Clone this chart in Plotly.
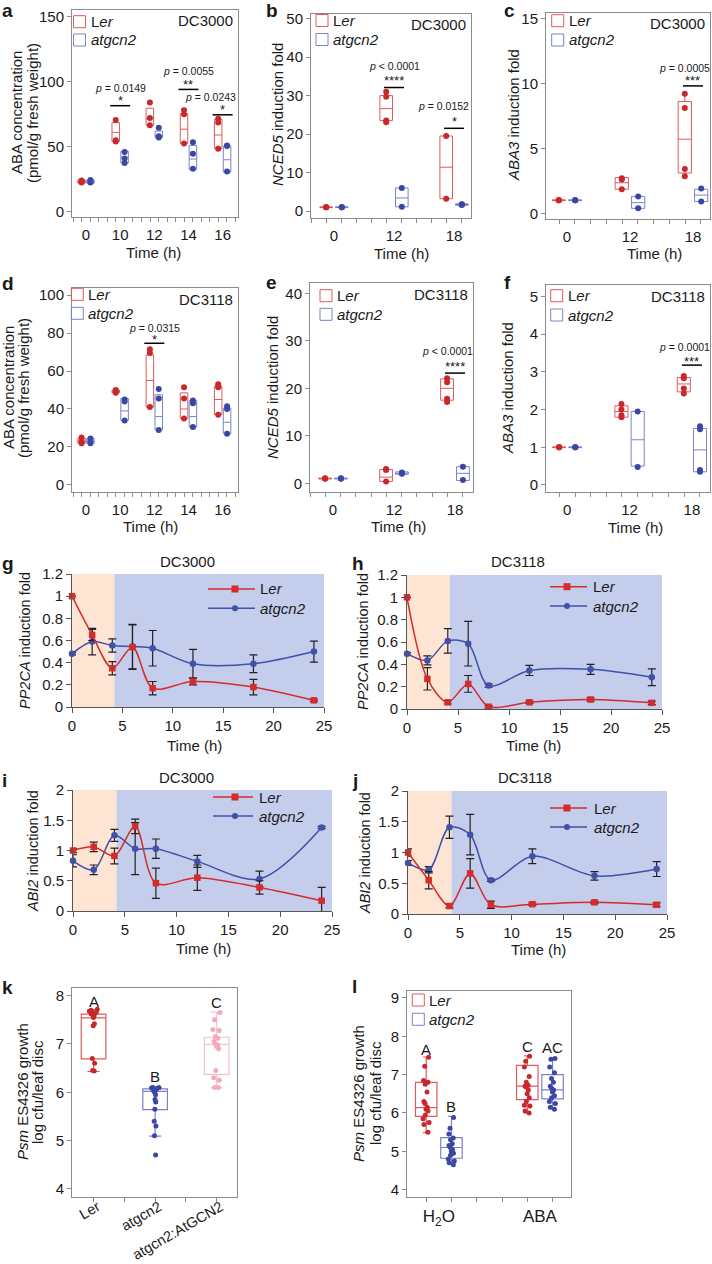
import plotly.graph_objects as go

W, H = 712, 1264
FONT = "Liberation Sans, Arial, Helvetica, sans-serif"
TXT = "#1a1a1a"
RED_DOT = "#c8282b"
BLUE_DOT = "#3b48a3"
RED_BOX = "#de5b5b"
BLUE_BOX = "#7b83c8"
PINK_DOT = "#f5a9ba"
PINK_BOX = "#f6bfcb"
RED_LINE = "#d42b2b"
BLUE_LINE = "#4150a8"
FRAME = "#8c8c8c"
SHADE_PINK = "#fde4d3"
SHADE_BLUE = "#c4cdec"

# ---------------- data ----------------
# a: ABA concentration, DC3000
a_times = ["0", "10", "12", "14", "16"]
a_ler_pts = [[24, 22.5, 23], [70.5, 55, 54], [84, 72, 66.5], [78, 75, 52.5], [71.5, 68.5, 48.5]]
a_ler_q1 = [22, 54, 66.5, 52.5, 48.5]
a_ler_med = [23, 61, 71.5, 63.5, 59]
a_ler_q3 = [24.5, 68.5, 79.5, 75.5, 71]
a_atg_pts = [[24.5, 22.5, 23], [46, 41, 37.5], [64.5, 58, 57], [53.5, 44.5, 33], [51, 50.5, 31]]
a_atg_q1 = [22, 37.5, 57, 32.5, 30.5]
a_atg_med = [23, 42, 58.5, 40.5, 40]
a_atg_q3 = [24.5, 46.5, 62, 51, 50.5]
a_sig_pos = [2, 4, 5]
a_sig_p = ["<i>p</i> = 0.0149", "<i>p</i> = 0.0055", "<i>p</i> = 0.0243"]
a_sig_star = ["*", "**", "*"]
a_sig_y = [81.5, 94, 74.5]

# b: NCED5, DC3000
b_times = ["0", "12", "18"]
b_ler_pts = [[1, 1, 1], [31, 29.7, 23.5, 23.1], [19.5, 3.2]]
b_ler_q1 = [0.9, 23.5, 3.2]
b_ler_med = [1, 26.6, 11.4]
b_ler_q3 = [1.1, 30, 19.5]
b_atg_pts = [[1, 1, 1], [6, 1.1], [1.8, 1.6, 1.7]]
b_atg_q1 = [0.9, 1.1, 1.5]
b_atg_med = [1, 3.4, 1.7]
b_atg_q3 = [1.1, 6, 1.9]
b_sig_pos = [2, 3]
b_sig_p = ["<i>p</i> < 0.0001", "<i>p</i> = 0.0152"]
b_sig_star = ["****", "*"]
b_sig_y = [32.1, 21.5]

# c: ABA3, DC3000
c_times = ["0", "12", "18"]
c_ler_pts = [[1, 1, 1], [2.7, 2.6, 1.85], [9.2, 8.1, 3.4, 2.85]]
c_ler_q1 = [0.97, 1.85, 3.1]
c_ler_med = [1, 2.35, 5.7]
c_ler_q3 = [1.03, 2.75, 8.6]
c_ler_lo = [0.97, 1.85, 2.85]
c_ler_hi = [1.03, 2.75, 9.2]
c_atg_pts = [[1, 1, 1], [1.3, 0.38], [1.9, 0.9]]
c_atg_q1 = [0.97, 0.38, 0.9]
c_atg_med = [1, 0.82, 1.4]
c_atg_q3 = [1.03, 1.3, 1.85]
c_sig_pos = [3]
c_sig_p = ["<i>p</i> = 0.0005"]
c_sig_star = ["***"]
c_sig_y = [9.8]

# d: ABA concentration, DC3118
d_times = ["0", "10", "12", "14", "16"]
d_ler_pts = [[25, 22, 23], [49.5, 48.5, 50], [71.5, 69.5, 41], [51.5, 45.5, 35], [53, 51.5, 37]]
d_ler_q1 = [22, 48.5, 41, 35, 37]
d_ler_med = [23, 49, 55, 40, 45]
d_ler_q3 = [24.5, 50, 68.5, 48.5, 52]
d_atg_pts = [[24.5, 22, 23], [45, 44, 34], [50.5, 45.5, 29], [44.5, 43, 30.5], [41.5, 40, 27]]
d_atg_q1 = [22, 34, 29, 30.5, 27]
d_atg_med = [23, 39, 36, 36, 33]
d_atg_q3 = [24.5, 45.5, 47.5, 44.5, 40.5]
d_sig_pos = [3]
d_sig_p = ["<i>p</i> = 0.0315"]
d_sig_star = ["*"]
d_sig_y = [74.6]

# e: NCED5, DC3118
e_times = ["0", "12", "18"]
e_ler_pts = [[1, 1, 1], [3, 2.8, 0.4], [22.1, 21.3, 17.8, 17.1]]
e_ler_q1 = [0.9, 0.4, 17.5]
e_ler_med = [1, 1.3, 20]
e_ler_q3 = [1.1, 2.9, 22]
e_atg_pts = [[1, 1, 1], [2.3, 2.1, 2.0], [3.5, 0.7]]
e_atg_q1 = [0.9, 1.9, 0.6]
e_atg_med = [1, 2.1, 2.1]
e_atg_q3 = [1.1, 2.4, 3.5]
e_sig_pos = [3]
e_sig_p = ["<i>p</i> < 0.0001"]
e_sig_star = ["****"]
e_sig_y = [23.2]

# f: ABA3, DC3118
f_times = ["0", "12", "18"]
f_ler_pts = [[1, 1, 1], [2.15, 2.0, 1.85, 1.8], [2.89, 2.83, 2.56, 2.43]]
f_ler_q1 = [0.99, 1.8, 2.47]
f_ler_med = [1, 1.95, 2.68]
f_ler_q3 = [1.01, 2.1, 2.85]
f_atg_pts = [[1, 1, 1], [1.95, 0.48], [1.56, 1.48, 0.4, 0.35]]
f_atg_q1 = [0.99, 0.5, 0.35]
f_atg_med = [1, 1.2, 0.93]
f_atg_q3 = [1.01, 1.95, 1.5]
f_sig_pos = [3]
f_sig_p = ["<i>p</i> = 0.0001"]
f_sig_star = ["***"]
f_sig_y = [3.18]

# g-j: time courses
tc_time = [0, 2, 4, 6, 8, 12, 18, 24]
g_ler = [1.0, 0.65, 0.35, 0.54, 0.17, 0.23, 0.18, 0.06]
g_ler_err = [0.0, 0.05, 0.06, 0.20, 0.06, 0.03, 0.07, 0.01]
g_atg = [0.48, 0.59, 0.555, 0.545, 0.53, 0.39, 0.39, 0.50]
g_atg_err = [0.01, 0.12, 0.06, 0.20, 0.16, 0.13, 0.08, 0.095]
h_ler = [1.0, 0.27, 0.06, 0.225, 0.02, 0.06, 0.085, 0.055]
h_ler_err = [0.0, 0.10, 0.015, 0.075, 0.01, 0.01, 0.015, 0.015]
h_atg = [0.495, 0.435, 0.61, 0.585, 0.21, 0.345, 0.355, 0.285]
h_atg_err = [0.01, 0.04, 0.11, 0.20, 0.015, 0.045, 0.045, 0.075]
i_ler = [1.0, 1.06, 0.91, 1.40, 0.46, 0.55, 0.39, 0.17]
i_ler_err = [0.03, 0.08, 0.13, 0.12, 0.25, 0.21, 0.11, 0.22]
i_atg = [0.83, 0.68, 1.25, 1.03, 1.03, 0.82, 0.53, 1.38]
i_atg_err = [0.10, 0.08, 0.10, 0.43, 0.16, 0.10, 0.13, 0.02]
j_ler = [1.0, 0.55, 0.13, 0.66, 0.15, 0.16, 0.19, 0.15]
j_ler_err = [0.06, 0.14, 0.03, 0.24, 0.06, 0.02, 0.02, 0.03]
j_atg = [0.83, 0.72, 1.41, 1.29, 0.55, 0.94, 0.62, 0.73]
j_atg_err = [0.04, 0.05, 0.18, 0.33, 0.02, 0.12, 0.07, 0.12]
pretreat_end = 4.2

# k: Psm growth
k_cats = ["Ler", "atgcn2", "atgcn2:AtGCN2"]
k_pts = [
    [7.72, 7.70, 7.68, 7.66, 7.65, 7.63, 7.62, 7.60, 7.58, 7.55, 7.42, 7.38, 6.70, 6.60, 6.45, 6.44],
    [6.10, 6.10, 6.09, 6.08, 6.07, 6.05, 6.03, 6.00, 5.95, 5.85, 5.80, 5.65, 5.40, 5.30, 5.10, 4.70],
    [7.65, 7.50, 7.30, 7.28, 7.15, 7.12, 7.05, 7.00, 6.98, 6.95, 6.90, 6.45, 6.30, 6.25, 6.10, 6.10],
]
k_q1 = [6.69, 5.64, 6.37]
k_med = [7.54, 6.02, 6.99]
k_q3 = [7.62, 6.07, 7.14]
k_lo = [6.43, 5.09, 6.09]
k_hi = [7.71, 6.10, 7.66]
k_letters = ["A", "B", "C"]
k_letter_y = [7.88, 6.33, 7.86]

# l: Psm growth with H2O / ABA
l_cats = ["H<sub>2</sub>O", "ABA"]
l_ler_pts = [
    [7.45, 7.22, 6.85, 6.80, 6.75, 6.55, 6.30, 6.25, 6.15, 6.10, 6.05, 5.95, 5.85, 5.75, 5.70, 5.50],
    [7.48, 7.35, 7.20, 6.95, 6.80, 6.72, 6.70, 6.68, 6.60, 6.50, 6.40, 6.30, 6.20, 6.18, 6.05, 6.00],
]
l_atg_pts = [
    [5.88, 5.60, 5.45, 5.35, 5.30, 5.20, 5.15, 5.10, 5.05, 5.00, 4.95, 4.90, 4.80, 4.75, 4.70, 4.65],
    [7.42, 7.40, 7.20, 7.05, 6.90, 6.80, 6.70, 6.65, 6.60, 6.55, 6.45, 6.40, 6.30, 6.25, 6.15, 6.10],
]
l_ler_q1 = [5.91, 6.35]
l_ler_med = [6.14, 6.70]
l_ler_q3 = [6.80, 7.24]
l_ler_lo = [5.49, 6.00]
l_ler_hi = [7.46, 7.49]
l_atg_q1 = [4.82, 6.37]
l_atg_med = [5.10, 6.60]
l_atg_q3 = [5.36, 7.00]
l_atg_lo = [4.66, 6.11]
l_atg_hi = [5.91, 7.43]
l_letters_ler = ["A", "C"]
l_letters_ler_y = [7.65, 7.73]
l_letters_atg = ["B", "AC"]
l_letters_atg_y = [6.16, 7.71]

# ---------------- helpers ----------------
fig = go.Figure()


def PX(px):
    return px / W


def PY(py):
    return 1 - py / H


def xr_(i):
    return "x" if i == 1 else f"x{i}"


def yr_(i):
    return "y" if i == 1 else f"y{i}"


def xa_(i):
    return "xaxis" if i == 1 else f"xaxis{i}"


def ya_(i):
    return "yaxis" if i == 1 else f"yaxis{i}"


def ann(px, py, text, size=15, xanchor="center", yanchor="middle", angle=0, bold=False):
    if bold:
        text = f"<b>{text}</b>"
    fig.add_annotation(x=PX(px), y=PY(py), xref="paper", yref="paper", text=text,
                       showarrow=False, xanchor=xanchor, yanchor=yanchor, textangle=angle,
                       font=dict(size=size, family=FONT, color=TXT))


def set_axes(i, geom, xr, yr, xkw, ykw):
    l, r, t, b = geom
    base = dict(showgrid=False, zeroline=False, automargin=False,
                tickfont=dict(size=15, family=FONT, color=TXT))
    xd = dict(base, domain=[PX(l), PX(r)], anchor=yr_(i), range=xr)
    xd.update(xkw)
    yd = dict(base, domain=[PY(b), PY(t)], anchor=xr_(i), range=yr)
    yd.update(ykw)
    fig.layout[xa_(i)] = xd
    fig.layout[ya_(i)] = yd


framed = dict(showline=True, mirror=True, linecolor=FRAME, linewidth=1,
              ticks="outside", ticklen=4, tickcolor=FRAME)


def box_legend(xc, y1, y2):
    for yc, col, lab in [(y1, RED_BOX, "L<i>er</i>"), (y2, BLUE_BOX, "<i>atgcn2</i>")]:
        fig.add_shape(type="rect", xref="paper", yref="paper",
                      x0=PX(xc - 6), x1=PX(xc + 6), y0=PY(yc + 6), y1=PY(yc - 6),
                      line=dict(color=col, width=1), fillcolor="rgba(0,0,0,0)")
        ann(xc + 9, yc, lab, 15, xanchor="left")


def line_legend(x0, x1, xm, xt, y1, y2):
    fig.add_shape(type="line", xref="paper", yref="paper", x0=PX(x0), x1=PX(x1),
                  y0=PY(y1), y1=PY(y1), line=dict(color=RED_LINE, width=1.5))
    fig.add_shape(type="rect", xref="paper", yref="paper", x0=PX(xm - 3.5), x1=PX(xm + 3.5),
                  y0=PY(y1 + 3.5), y1=PY(y1 - 3.5), line=dict(width=0), fillcolor=RED_LINE)
    ann(xt, y1, "L<i>er</i>", 15, xanchor="left")
    fig.add_shape(type="line", xref="paper", yref="paper", x0=PX(x0), x1=PX(x1),
                  y0=PY(y2), y1=PY(y2), line=dict(color=BLUE_LINE, width=1.5))
    fig.add_shape(type="circle", xref="paper", yref="paper", x0=PX(xm - 3), x1=PX(xm + 3),
                  y0=PY(y2 + 3), y1=PY(y2 - 3), line=dict(width=0), fillcolor=BLUE_LINE)
    ann(xt, y2, "<i>atgcn2</i>", 15, xanchor="left")


def box_panel(i, geom, xr, yr, yticks, cats, ler, atg, sig, dc, leg, width, off):
    set_axes(i, geom, xr, yr,
             dict(framed, tickvals=list(range(1, len(cats) + 1)), ticktext=cats,
                  tickcolor="rgba(0,0,0,0)",
                  minor=dict(ticks="outside", ticklen=4, tickcolor=FRAME, dtick=0.25, tick0=0.875,
                             showgrid=False)),
             dict(framed, tickvals=yticks))
    for grp, sign, lc, dc_col in [(ler, -1, RED_BOX, RED_DOT), (atg, 1, BLUE_BOX, BLUE_DOT)]:
        pts, q1, med, q3, lo, hi = grp
        xs = [k + 1 + sign * off for k in range(len(q1))]
        fig.add_trace(go.Box(x=xs, q1=q1, median=med, q3=q3,
                             lowerfence=lo if lo else q1, upperfence=hi if hi else q3,
                             width=width, orientation="v", boxpoints=False, whiskerwidth=0,
                             line=dict(color=lc, width=1), fillcolor="rgba(0,0,0,0)",
                             xaxis=xr_(i), yaxis=yr_(i), showlegend=False))
        dx, dy = [], []
        for k, p in enumerate(pts):
            dx += [xs[k]] * len(p)
            dy += p
        fig.add_trace(go.Scatter(x=dx, y=dy, mode="markers",
                                 marker=dict(color=dc_col, size=6),
                                 xaxis=xr_(i), yaxis=yr_(i), showlegend=False))
    pos, ptxt, stars, ylev, pdx, star_up, p_up = sig
    for k in range(len(pos)):
        fig.add_shape(type="line", xref=xr_(i), yref=yr_(i), xsizemode="pixel", xanchor=pos[k],
                      x0=-10, x1=10, y0=ylev[k], y1=ylev[k], line=dict(color="black", width=1.5))
        fig.add_annotation(x=pos[k], y=ylev[k], xref=xr_(i), yref=yr_(i), text=stars[k],
                           showarrow=False, yshift=star_up, font=dict(size=13, family=FONT, color=TXT))
        fig.add_annotation(x=pos[k], y=ylev[k], xref=xr_(i), yref=yr_(i), text=ptxt[k],
                           showarrow=False, yshift=p_up, xshift=pdx[k],
                           font=dict(size=10.5, family=FONT, color=TXT))
    l, r, t, b = geom
    ann(r - 3, t + 11, dc, 15, xanchor="right")
    box_legend(*leg)


# ---------------- panels a-f ----------------
box_panel(1, (72, 238, 10, 217), [0.59, 5.45], [-4, 155], [0, 50, 100, 150], a_times,
          (a_ler_pts, a_ler_q1, a_ler_med, a_ler_q3, None, None),
          (a_atg_pts, a_atg_q1, a_atg_med, a_atg_q3, None, None),
          (a_sig_pos, a_sig_p, a_sig_star, a_sig_y, [0, 0, -12], 5, 18), "DC3000", (79.5, 21.7, 40), 0.22, 0.13)
box_panel(2, (311, 471, 14, 218), [0.617, 3.283], [-1.8, 51.2], [0, 10, 20, 30, 40, 50], b_times,
          (b_ler_pts, b_ler_q1, b_ler_med, b_ler_q3, None, None),
          (b_atg_pts, b_atg_q1, b_atg_med, b_atg_q3, None, None),
          (b_sig_pos, b_sig_p, b_sig_star, b_sig_y, [0, -11], 7, 22), "DC3000", (322, 20.5, 39.5), 0.21, 0.13)
box_panel(3, (546, 710, 13, 219), [0.667, 3.27], [-0.44, 15.41], [0, 5, 10, 15], c_times,
          (c_ler_pts, c_ler_q1, c_ler_med, c_ler_q3, c_ler_lo, c_ler_hi),
          (c_atg_pts, c_atg_q1, c_atg_med, c_atg_q3, None, None),
          (c_sig_pos, c_sig_p, c_sig_star, c_sig_y, [-8], 5, 18), "DC3000", (557.7, 20.7, 40), 0.21, 0.13)
box_panel(4, (72, 238, 288, 492), [0.59, 5.45], [-3.7, 103.7], [0, 20, 40, 60, 80, 100], d_times,
          (d_ler_pts, d_ler_q1, d_ler_med, d_ler_q3, None, None),
          (d_atg_pts, d_atg_q1, d_atg_med, d_atg_q3, None, None),
          (d_sig_pos, d_sig_p, d_sig_star, d_sig_y, [0], 4, 15), "DC3118", (77.3, 294.3, 313.3), 0.22, 0.13)
box_panel(5, (310, 473, 283, 492), [0.623, 3.295], [-1.83, 42.17], [0, 10, 20, 30, 40], e_times,
          (e_ler_pts, e_ler_q1, e_ler_med, e_ler_q3, None, None),
          (e_atg_pts, e_atg_q1, e_atg_med, e_atg_q3, None, None),
          (e_sig_pos, e_sig_p, e_sig_star, e_sig_y, [-8], 7, 22), "DC3118", (326, 295.7, 314.3), 0.21, 0.13)
box_panel(6, (546, 710, 285, 492), [0.66, 3.29], [-0.186, 5.305], [0, 1, 2, 3, 4, 5], f_times,
          (f_ler_pts, f_ler_q1, f_ler_med, f_ler_q3, None, None),
          (f_atg_pts, f_atg_q1, f_atg_med, f_atg_q3, None, None),
          (f_sig_pos, f_sig_p, f_sig_star, f_sig_y, [-7], 4, 18), "DC3118", (556.7, 295.7, 315), 0.21, 0.13)

# ---------------- panels g-j ----------------
lineax = dict(showline=True, mirror=False, linecolor="#555555", linewidth=1,
              ticks="outside", ticklen=5, tickcolor="#555555")


def tc_panel(i, geom, ymax, ydtick, ler, ler_err, atg, atg_err, title, tpos, leg):
    set_axes(i, geom, [0, 25], [0, ymax],
             dict(lineax, tickvals=[0, 5, 10, 15, 20, 25], tickfont=dict(size=15, family=FONT, color=TXT)),
             dict(lineax, dtick=ydtick, tick0=0, tickfont=dict(size=15, family=FONT, color=TXT)))
    fig.add_shape(type="rect", xref=xr_(i), yref=yr_(i), x0=0, x1=pretreat_end, y0=0, y1=ymax,
                  fillcolor=SHADE_PINK, line=dict(width=0), layer="below")
    fig.add_shape(type="rect", xref=xr_(i), yref=yr_(i), x0=pretreat_end, x1=25, y0=0, y1=ymax,
                  fillcolor=SHADE_BLUE, line=dict(width=0), layer="below")
    for vals, errs, col, sym, sz in [(atg, atg_err, BLUE_LINE, "circle", 6.5),
                                     (ler, ler_err, RED_LINE, "square", 6.5)]:
        fig.add_trace(go.Scatter(x=tc_time, y=vals, mode="lines+markers",
                                 line=dict(color=col, width=1.5, shape="spline", smoothing=0.9),
                                 marker=dict(color=col, size=sz, symbol=sym),
                                 error_y=dict(type="data", array=errs, color="#222222",
                                              thickness=1.2, width=4),
                                 xaxis=xr_(i), yaxis=yr_(i), showlegend=False, cliponaxis=False))
    ann(tpos[0], tpos[1], title, 15)
    line_legend(*leg)


tc_panel(7, (72, 324, 574, 707), 1.2, 0.2, g_ler, g_ler_err, g_atg, g_atg_err, "DC3000", (188, 561.7),
         (208, 255, 235, 258, 589, 608.3))
tc_panel(8, (407, 662, 575, 709), 1.2, 0.2, h_ler, h_ler_err, h_atg, h_atg_err, "DC3118", (518, 561.7),
         (550, 587, 567, 591, 586.7, 606))
tc_panel(9, (73, 332, 790, 911), 2, 0.5, i_ler, i_ler_err, i_atg, i_atg_err, "DC3000", (186.7, 778),
         (213, 253, 235, 257, 797, 816))
tc_panel(10, (408, 667, 791, 914), 2, 0.5, j_ler, j_ler_err, j_atg, j_atg_err, "DC3118", (525, 778),
         (550, 587, 567, 592, 808, 827))

# ---------------- panel k ----------------
set_axes(11, (72, 237, 988, 1197), [0.65, 3.33], [3.83, 8.16],
         dict(framed, tickvals=[1, 2, 3], ticktext=k_cats, tickangle=-30, ticklabelshift=4,
              ticklabelstandoff=-9, tickfont=dict(size=14.5, family=FONT, color=TXT),
              minor=dict(ticks="outside", ticklen=4, tickcolor=FRAME, dtick=0.5, tick0=0.5, showgrid=False)),
         dict(framed, tickvals=[4, 5, 6, 7, 8]))
k_cols = [(RED_BOX, RED_DOT), (BLUE_BOX, BLUE_DOT), (PINK_BOX, PINK_DOT)]
for n in range(3):
    lc, dcol = k_cols[n]
    fig.add_trace(go.Box(x=[n + 1], q1=[k_q1[n]], median=[k_med[n]], q3=[k_q3[n]],
                         lowerfence=[k_lo[n]], upperfence=[k_hi[n]], width=0.4, whiskerwidth=0.5,
                         boxpoints=False, line=dict(color=lc, width=1.2), fillcolor="rgba(0,0,0,0)",
                         xaxis="x11", yaxis="y11", showlegend=False))
    fig.add_trace(go.Box(x=[n + 1] * len(k_pts[n]), y=k_pts[n], width=0.4, boxpoints="all",
                         jitter=0.35, pointpos=0, marker=dict(color=dcol, size=5),
                         line=dict(color="rgba(0,0,0,0)", width=0), fillcolor="rgba(0,0,0,0)",
                         xaxis="x11", yaxis="y11", showlegend=False, hoverinfo="skip"))
    fig.add_annotation(x=n + 1, y=k_letter_y[n], xref="x11", yref="y11", text=k_letters[n],
                       showarrow=False, font=dict(size=15, family=FONT, color=TXT))

# ---------------- panel l ----------------
l_pos_ler = [1, 5]
l_pos_atg = [2, 6]
set_axes(12, (407, 571, 991, 1197), [0.24, 6.73], [3.81, 9.18],
         dict(framed, tickvals=[1.5, 5.5], ticktext=l_cats, tickcolor="rgba(0,0,0,0)",
              tickfont=dict(size=17, family=FONT, color=TXT),
              minor=dict(ticks="outside", ticklen=4, tickcolor=FRAME, dtick=1, tick0=0, showgrid=False)),
         dict(framed, tickvals=[4, 5, 6, 7, 8, 9]))
for pos, pts, q1, med, q3, lo, hi, lc, dcol, lets, lety in [
        (l_pos_ler, l_ler_pts, l_ler_q1, l_ler_med, l_ler_q3, l_ler_lo, l_ler_hi, RED_BOX, RED_DOT,
         l_letters_ler, l_letters_ler_y),
        (l_pos_atg, l_atg_pts, l_atg_q1, l_atg_med, l_atg_q3, l_atg_lo, l_atg_hi, BLUE_BOX, BLUE_DOT,
         l_letters_atg, l_letters_atg_y)]:
    fig.add_trace(go.Box(x=pos, q1=q1, median=med, q3=q3, lowerfence=lo, upperfence=hi,
                         width=0.85, whiskerwidth=0.3, boxpoints=False,
                         line=dict(color=lc, width=1.2), fillcolor="rgba(0,0,0,0)",
                         xaxis="x12", yaxis="y12", showlegend=False))
    for n in range(2):
        fig.add_trace(go.Box(x=[pos[n]] * len(pts[n]), y=pts[n], width=0.85, boxpoints="all",
                             jitter=0.35, pointpos=0, marker=dict(color=dcol, size=5),
                             line=dict(color="rgba(0,0,0,0)", width=0), fillcolor="rgba(0,0,0,0)",
                             xaxis="x12", yaxis="y12", showlegend=False, hoverinfo="skip"))
        fig.add_annotation(x=pos[n], y=lety[n], xref="x12", yref="y12", text=lets[n],
                           showarrow=False, font=dict(size=15, family=FONT, color=TXT))
box_legend(418.3, 1000, 1019.3)

# ---------------- axis titles & panel letters ----------------
ann(16, 113, "ABA concentration", 15, angle=-90)
ann(32, 113, "(pmol/g fresh weight)", 15, angle=-90)
ann(277, 115, "<i>NCED5</i> induction fold", 15, angle=-90)
ann(513, 115, "<i>ABA3</i> induction fold", 15, angle=-90)
ann(8, 388, "ABA concentration", 15, angle=-90)
ann(23, 388, "(pmol/g fresh weight)", 15, angle=-90)
ann(272, 388, "<i>NCED5</i> induction fold", 15, angle=-90)
ann(507, 388, "<i>ABA3</i> induction fold", 15, angle=-90)
for xc, yc in [(153, 252.7), (401.7, 253.3), (654.3, 253.3), (150.7, 526.7), (398.3, 526.7), (635, 527.3),
               (195, 745), (533.3, 745), (203.3, 948.3), (538.3, 949.3)]:
    ann(xc, yc, "Time (h)", 15)
ann(25, 641, "<i>PP2CA</i> induction fold", 14.5, angle=-90)
ann(363, 642, "<i>PP2CA</i> induction fold", 14.5, angle=-90)
ann(33, 851, "<i>ABI2</i> induction fold", 14.5, angle=-90)
ann(365, 853, "<i>ABI2</i> induction fold", 14.5, angle=-90)
ann(22, 1092, "<i>Psm</i> ES4326 growth", 15, angle=-90)
ann(37, 1092, "log cfu/leaf disc", 15, angle=-90)
ann(358, 1093, "<i>Psm</i> ES4326 growth", 15, angle=-90)
ann(375, 1093, "log cfu/leaf disc", 15, angle=-90)

for lab, xl, yl in [("a", 0, 10), ("b", 264, 10), ("c", 502, 10), ("d", 0, 284), ("e", 264, 283),
                    ("f", 502, 283), ("g", 0, 564), ("h", 350, 563), ("i", 0, 780), ("j", 350, 780),
                    ("k", 0, 987), ("l", 350, 986)]:
    ann(xl, yl, lab, 19, xanchor="left", bold=True)

fig.update_layout(width=W, height=H, margin=dict(l=0, r=0, t=0, b=0), template="none",
                  paper_bgcolor="white", plot_bgcolor="rgba(0,0,0,0)", showlegend=False,
                  boxmode="overlay", font=dict(family=FONT, size=15, color=TXT))
fig.write_html("out.html", config={"displayModeBar": False, "staticPlot": True},
               post_script="document.body.style.margin='0px';document.body.style.padding='0px';"
                           "document.body.style.overflow='hidden';")
